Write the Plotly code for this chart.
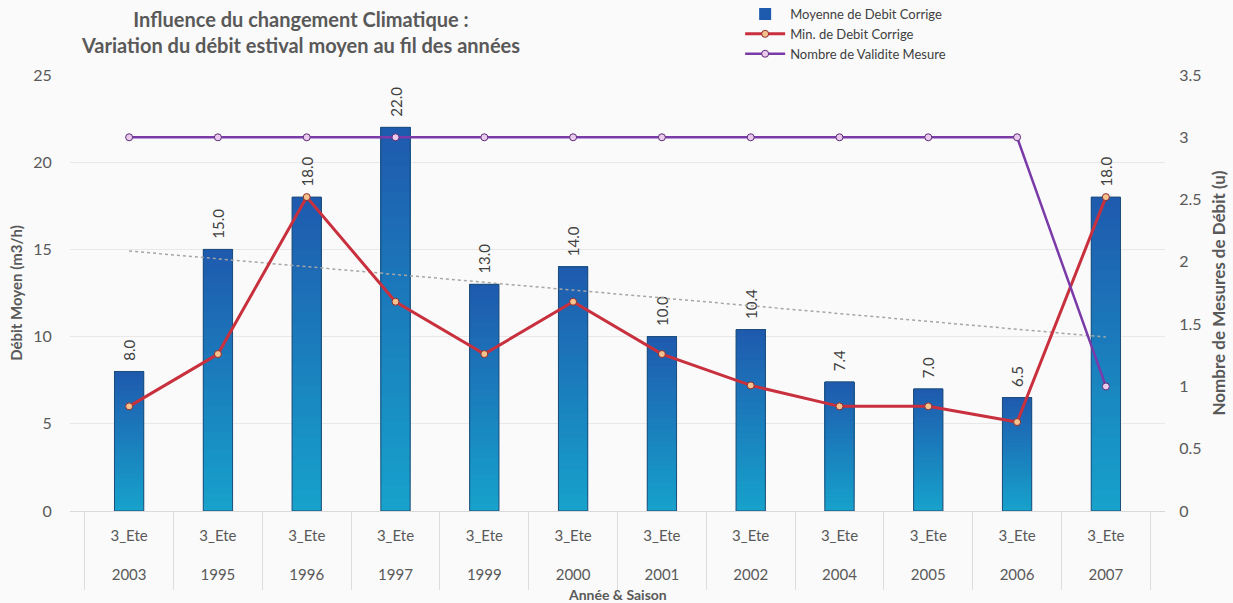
import numpy as np
import plotly.graph_objects as go

# ---- data ----
years = ["2003", "1995", "1996", "1997", "1999", "2000", "2001", "2002", "2004", "2005", "2006", "2007"]
seasons = ["3_Ete"] * 12
moyenne = [8.0, 15.0, 18.0, 22.0, 13.0, 14.0, 10.0, 10.4, 7.4, 7.0, 6.5, 18.0]
minimum = [6, 9, 18, 12, 9, 12, 9, 7.2, 6, 6, 5.1, 18]
nombre = [3, 3, 3, 3, 3, 3, 3, 3, 3, 3, 3, 1]

title_l1 = "Influence du changement Climatique :"
title_l2 = "Variation du débit estival moyen au fil des années"

FONT = "Lato"
GREY = "#595959"

x = years
vals = np.array(moyenne, dtype=float)

fig = go.Figure()

# gradient bars: overlayed segments (bottom teal -> top dark blue)
N = 30
c_bot = np.array([0x17, 0xA3, 0xCC])
c_top = np.array([0x1F, 0x5A, 0xAE])
for k in range(N):
    t = (k + 0.5) / N
    c = (c_bot * (1 - t) + c_top * t).astype(int)
    col = "rgb(%d,%d,%d)" % tuple(c)
    last = k == N - 1
    fig.add_trace(go.Bar(
        x=x, y=vals * (N - k) / N, base=vals * k / N,
        marker=dict(color=col, line=dict(width=0)),
        width=0.33,
        name="Moyenne de Debit Corrige",
        showlegend=last, legendrank=1,
        text=["\u00a0\u00a0" + f"{v:.1f}" for v in moyenne] if last else None,
        textposition="outside" if last else "none",
        textangle=-90,
        constraintext="none",
        textfont=dict(family=FONT, size=15, color="#404040"),
        cliponaxis=False,
        hoverinfo="skip" if not last else None,
    ))

# outline
fig.add_trace(go.Bar(
    x=x, y=vals, width=0.33,
    marker=dict(color="rgba(0,0,0,0)", line=dict(color="#1F4E79", width=1)),
    showlegend=False, hoverinfo="skip",
))

# trendline (linear regression of bar values)
idx = np.arange(len(vals))
a, b = np.polyfit(idx, vals, 1)
fig.add_trace(go.Scatter(
    x=x, y=a * idx + b, mode="lines",
    line=dict(color="#A6A6A6", width=1.5, dash="dot"),
    showlegend=False, hoverinfo="skip",
))

fig.add_trace(go.Scatter(
    x=x, y=minimum, mode="lines+markers", name="Min. de Debit Corrige",
    line=dict(color="#C9303E", width=3),
    marker=dict(symbol="circle", size=7, color="#F5C28E", line=dict(color="#8E2B2B", width=1)),
    legendrank=2,
))

fig.add_trace(go.Scatter(
    x=x, y=nombre, mode="lines+markers", name="Nombre de Validite Mesure",
    line=dict(color="#7A3AA8", width=2.5),
    marker=dict(symbol="circle", size=7, color="#EBCBEB", line=dict(color="#5A2A7A", width=1)),
    yaxis="y2", legendrank=3,
))

fig.update_layout(
    width=1233, height=603,
    barmode="overlay",
    paper_bgcolor="#FAFAFA", plot_bgcolor="#FAFAFA",
    margin=dict(l=70, r=68, t=75, b=92, autoexpand=False),
    font=dict(family=FONT, color=GREY, size=14),
    annotations=[
        dict(text="<b>" + title_l1 + "<br>" + title_l2 + "</b>",
             xref="paper", yref="paper", x=(300 - 70) / 1095, y=1 + 70 / 436,
             xanchor="center", yanchor="top", showarrow=False, align="center",
             font=dict(family=FONT, size=20, color=GREY)),
        dict(text="<b>Année & Saison</b>",
             xref="paper", yref="paper", x=(617 - 70) / 1095, y=-(594 - 511) / 436,
             xanchor="center", yanchor="middle", showarrow=False,
             font=dict(family=FONT, size=14, color=GREY)),
    ],
    legend=dict(x=0.612, xanchor="left", y=1 + 76 / 436, yanchor="top",
                bgcolor="rgba(0,0,0,0)", font=dict(family=FONT, size=13, color="#404040"),
                tracegroupgap=0, itemwidth=40, traceorder="normal"),
    xaxis=dict(
        type="category",
        tickmode="array", tickvals=years,
        ticktext=[s + "<br><br>" + y for s, y in zip(seasons, years)],
        tickson="boundaries", ticks="outside", ticklen=78, tickcolor="#DDDDDD", tickwidth=1,
        ticklabelstandoff=11,
        showline=True, linecolor="#D9D9D9", linewidth=1,
        showgrid=False,
        tickfont=dict(family=FONT, size=15, color=GREY),
    ),
    yaxis=dict(
        range=[0, 25], dtick=5, showgrid=True, gridcolor="#E8E8E8", gridwidth=1,
        zeroline=False, ticks="outside", ticklen=14, tickcolor="rgba(0,0,0,0)",
        tickfont=dict(family=FONT, size=16, color=GREY),
        title=dict(text="<b>Débit Moyen (m3/h)</b>", font=dict(family=FONT, size=15, color=GREY), standoff=6),
    ),
    yaxis2=dict(
        range=[0, 3.5], dtick=0.5, overlaying="y", side="right", showgrid=False,
        zeroline=False, ticks="outside", ticklen=10, tickcolor="rgba(0,0,0,0)",
        tickfont=dict(family=FONT, size=16, color=GREY),
        title=dict(text="<b>Nombre de Mesures de Débit (u)</b>", font=dict(family=FONT, size=17, color=GREY), standoff=12),
    ),
)

fig.write_html("out.html")
